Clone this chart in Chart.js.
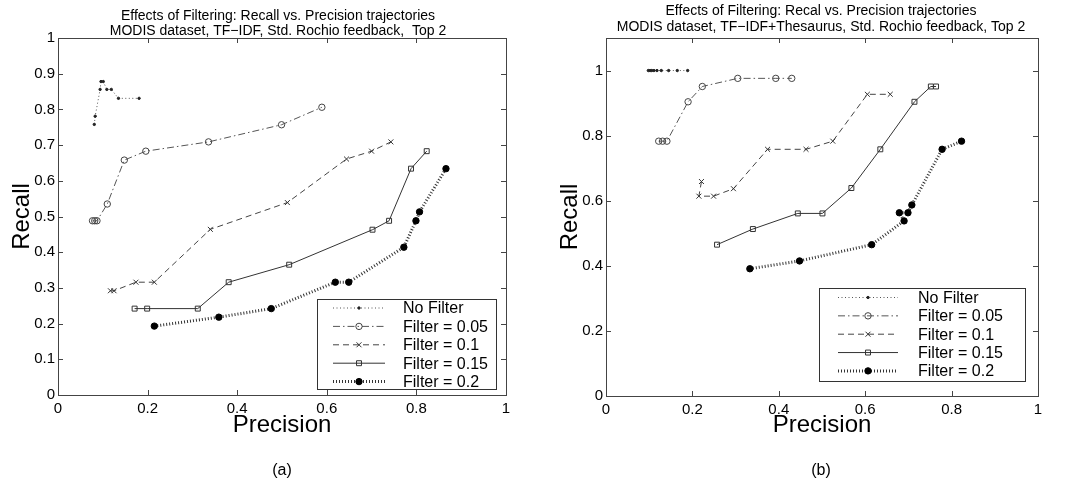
<!DOCTYPE html>
<html>
<head>
<meta charset="utf-8">
<script src="https://cdn.jsdelivr.net/npm/chart.js@4.4.0/dist/chart.umd.min.js"></script>
<style>
  body { margin: 0; background: #fff; }
  .panel { position: absolute; top: 0; width: 533px; height: 496px; }
</style>
</head>
<body>
<div class="panel" style="left:0"><canvas id="chartA" width="533" height="496"></canvas></div>
<div class="panel" style="left:533px"><canvas id="chartB" width="533" height="496"></canvas></div>
<script>
// Tick labels
const xTicks = [0, 0.2, 0.4, 0.6, 0.8, 1];
const yTicksA = [0, 0.1, 0.2, 0.3, 0.4, 0.5, 0.6, 0.7, 0.8, 0.9, 1];
const yTicksB = [0, 0.2, 0.4, 0.6, 0.8, 1];
const seriesNames = ['No Filter', 'Filter = 0.05', 'Filter = 0.1', 'Filter = 0.15', 'Filter = 0.2'];

// (a) TF-IDF : precision / recall per filter
const precNoFilterA = [0.081, 0.083, 0.094, 0.096, 0.101, 0.109, 0.119, 0.135, 0.181];
const recNoFilterA  = [0.758, 0.781, 0.856, 0.878, 0.878, 0.856, 0.856, 0.831, 0.831];
const precF05A = [0.077, 0.082, 0.087, 0.110, 0.148, 0.196, 0.336, 0.499, 0.589];
const recF05A  = [0.488, 0.488, 0.488, 0.535, 0.658, 0.683, 0.709, 0.757, 0.806];
const precF10A = [0.117, 0.125, 0.174, 0.215, 0.340, 0.512, 0.644, 0.700, 0.743];
const recF10A  = [0.292, 0.292, 0.316, 0.316, 0.464, 0.539, 0.661, 0.683, 0.709];
const precF15A = [0.171, 0.199, 0.312, 0.381, 0.516, 0.702, 0.739, 0.788, 0.823];
const recF15A  = [0.242, 0.242, 0.242, 0.316, 0.365, 0.463, 0.488, 0.634, 0.683];
const precF20A = [0.215, 0.359, 0.476, 0.619, 0.649, 0.772, 0.799, 0.807, 0.866];
const recF20A  = [0.193, 0.218, 0.242, 0.316, 0.316, 0.414, 0.488, 0.513, 0.634];

// (b) TF-IDF+Thesaurus
const precNoFilterB = [0.098, 0.102, 0.106, 0.111, 0.118, 0.128, 0.145, 0.165, 0.189];
const recNoFilterB  = [1, 1, 1, 1, 1, 1, 1, 1, 1];
const precF05B = [0.122, 0.131, 0.141, 0.190, 0.223, 0.305, 0.393, 0.430];
const recF05B  = [0.783, 0.783, 0.783, 0.904, 0.951, 0.976, 0.976, 0.976];
const precF10B = [0.221, 0.215, 0.249, 0.295, 0.374, 0.463, 0.525, 0.605, 0.658];
const recF10B  = [0.659, 0.614, 0.614, 0.637, 0.758, 0.758, 0.783, 0.927, 0.927];
const precF15B = [0.257, 0.340, 0.444, 0.501, 0.568, 0.635, 0.714, 0.752, 0.764];
const recF15B  = [0.465, 0.513, 0.561, 0.561, 0.639, 0.758, 0.904, 0.951, 0.951];
const precF20B = [0.333, 0.448, 0.615, 0.690, 0.679, 0.699, 0.708, 0.778, 0.823];
const recF20B  = [0.391, 0.415, 0.465, 0.538, 0.563, 0.563, 0.587, 0.758, 0.783];

const FONT = '"Liberation Sans", Arial, Helvetica, sans-serif';

// line / marker look of each series (MATLAB style)
const seriesStyle = [
    { dash: [1, 2.5], width: 1, color: '#555', point: 'circle', r: 1.2, fill: '#222', stroke: '#222' },
    { dash: [7, 3, 1.5, 3], width: 1, color: '#555', point: 'circle', r: 3.2, fill: 'rgba(0,0,0,0)', stroke: '#444' },
    { dash: [6, 4], width: 1, color: '#444', point: 'crossRot', r: 3.5, fill: 'rgba(0,0,0,0)', stroke: '#333' },
    { dash: [], width: 1, color: '#333', point: 'rect', r: 3.5, fill: 'rgba(0,0,0,0)', stroke: '#333' },
    { dash: [1, 2], width: 3, color: '#333', point: 'circle', r: 3.2, fill: '#000', stroke: '#000' }
];

function buildDatasets(precs, recs) {
    return precs.map((p, i) => {
        const s = seriesStyle[i];
        return {
            label: seriesNames[i],
            data: p.map((x, j) => ({ x: x, y: recs[i][j] })),
            showLine: true,
            tension: 0,
            borderColor: s.color,
            borderWidth: s.width,
            borderDash: s.dash,
            pointStyle: s.point,
            pointRadius: s.r,
            pointBackgroundColor: s.fill,
            pointBorderColor: s.stroke,
            pointBorderWidth: 1
        };
    });
}

function drawMarker(ctx, s, x, y) {
    ctx.save();
    ctx.setLineDash([]);
    ctx.lineWidth = 1;
    ctx.strokeStyle = s.stroke;
    ctx.fillStyle = s.fill;
    ctx.beginPath();
    if (s.point === 'circle') {
        ctx.arc(x, y, s.r, 0, Math.PI * 2);
        ctx.fill();
    } else if (s.point === 'rect') {
        const h = s.r * Math.SQRT1_2;
        ctx.rect(x - h, y - h, 2 * h, 2 * h);
    } else {
        const h = s.r * Math.SQRT1_2;
        ctx.moveTo(x - h, y - h); ctx.lineTo(x + h, y + h);
        ctx.moveTo(x + h, y - h); ctx.lineTo(x - h, y + h);
    }
    ctx.stroke();
    ctx.restore();
}

// axes box with inward tick marks, titles, legend and caption
const matlabFigure = {
    id: 'matlabFigure',
    afterDatasetsDraw(chart, args, opts) {
        const ctx = chart.ctx;
        const a = chart.chartArea;
        const sx = chart.scales.x, sy = chart.scales.y;
        ctx.save();
        ctx.strokeStyle = '#444';
        ctx.lineWidth = 1;
        ctx.setLineDash([]);
        ctx.strokeRect(Math.round(a.left) + 0.5, Math.round(a.top) + 0.5,
            Math.round(a.right - a.left), Math.round(a.bottom - a.top));
        ctx.beginPath();
        sx.ticks.forEach(t => {
            const px = Math.round(sx.getPixelForValue(t.value)) + 0.5;
            ctx.moveTo(px, a.bottom); ctx.lineTo(px, a.bottom - 5);
            ctx.moveTo(px, a.top); ctx.lineTo(px, a.top + 5);
        });
        sy.ticks.forEach(t => {
            const py = Math.round(sy.getPixelForValue(t.value)) + 0.5;
            ctx.moveTo(a.left, py); ctx.lineTo(a.left + 5, py);
            ctx.moveTo(a.right, py); ctx.lineTo(a.right - 5, py);
        });
        ctx.stroke();

        // legend
        const b = opts.legend;
        ctx.fillStyle = '#fff';
        ctx.fillRect(b.x, b.y, b.w, b.h);
        ctx.strokeStyle = '#333';
        ctx.strokeRect(b.x + 0.5, b.y + 0.5, b.w, b.h);
        ctx.font = '16px ' + FONT;
        ctx.textAlign = 'left';
        ctx.textBaseline = 'middle';
        seriesNames.forEach((name, i) => {
            const s = seriesStyle[i];
            const y = b.y + b.first + i * b.step;
            ctx.save();
            ctx.strokeStyle = s.color;
            ctx.lineWidth = s.width;
            ctx.setLineDash(s.dash);
            ctx.beginPath();
            ctx.moveTo(b.lineX0, y); ctx.lineTo(b.lineX1, y);
            ctx.stroke();
            ctx.restore();
            drawMarker(ctx, s, (b.lineX0 + b.lineX1) / 2, y);
            ctx.fillStyle = '#000';
            ctx.fillText(name, b.textX, y + 1);
        });

        // title lines and caption
        ctx.fillStyle = '#000';
        ctx.textAlign = 'center';
        ctx.font = '14px ' + FONT;
        opts.title.forEach((t, i) => ctx.fillText(t, opts.titleX, opts.titleY[i]));
        ctx.font = '16px ' + FONT;
        ctx.fillText(opts.caption, opts.captionX, opts.captionY);
        ctx.restore();
    }
};

function makeFigure(id, cfg) {
    const ctx = document.getElementById(id).getContext('2d');
    return new Chart(ctx, {
        type: 'scatter',
        data: { datasets: buildDatasets(cfg.precs, cfg.recs) },
        plugins: [matlabFigure],
        options: {
            responsive: false,
            animation: false,
            devicePixelRatio: 1,
            layout: { padding: cfg.padding },
            scales: {
                x: {
                    type: 'linear', min: 0, max: 1,
                    afterBuildTicks: s => { s.ticks = xTicks.map(v => ({ value: v })); },
                    afterFit: s => { s.height = cfg.xHeight; },
                    grid: { display: false, drawTicks: false },
                    border: { display: false },
                    ticks: { color: '#000', padding: 5, maxRotation: 0, font: { family: FONT, size: 15 },
                             callback: v => String(v) },
                    title: { display: true, text: 'Precision', color: '#000', padding: 0,
                             font: { family: FONT, size: 24 } }
                },
                y: {
                    type: 'linear', min: 0, max: cfg.yMax,
                    afterBuildTicks: s => { s.ticks = cfg.yTicks.map(v => ({ value: v })); },
                    afterFit: s => { s.width = cfg.yWidth; },
                    grid: { display: false, drawTicks: false },
                    border: { display: false },
                    ticks: { color: '#000', padding: 3, font: { family: FONT, size: 15 },
                             callback: v => String(v) },
                    title: { display: true, text: 'Recall', color: '#000', padding: 0,
                             font: { family: FONT, size: 24 } }
                }
            },
            plugins: {
                legend: { display: false },
                tooltip: { enabled: false },
                matlabFigure: cfg.figure
            }
        }
    });
}

makeFigure('chartA', {
    precs: [precNoFilterA, precF05A, precF10A, precF15A, precF20A],
    recs: [recNoFilterA, recF05A, recF10A, recF15A, recF20A],
    yTicks: yTicksA, yMax: 1,
    padding: { left: 8, right: 27, top: 38, bottom: 56.6 },
    yWidth: 50, xHeight: 44.4,
    figure: {
        title: ['Effects of Filtering: Recall vs. Precision trajectories',
                'MODIS dataset, TF\u2212IDF, Std. Rochio feedback,  Top 2'],
        titleX: 278, titleY: [16, 31],
        caption: '(a)', captionX: 282, captionY: 471,
        legend: { x: 317, y: 299, w: 179, h: 90, first: 9, step: 18.4,
                  lineX0: 333, lineX1: 385, textX: 403 }
    }
});

makeFigure('chartB', {
    precs: [precNoFilterB, precF05B, precF10B, precF15B, precF20B],
    recs: [recNoFilterB, recF05B, recF10B, recF15B, recF20B],
    yTicks: yTicksB, yMax: 1.1,
    padding: { left: 22.6, right: 28, top: 38, bottom: 56.6 },
    yWidth: 50.4, xHeight: 43.4,
    figure: {
        title: ['Effects of Filtering: Recal vs. Precision trajectories',
                'MODIS dataset, TF\u2212IDF+Thesaurus, Std. Rochio feedback, Top 2'],
        titleX: 288, titleY: [11, 27],
        caption: '(b)', captionX: 288, captionY: 471,
        legend: { x: 286, y: 288, w: 206, h: 93, first: 9.5, step: 18.35,
                  lineX0: 305, lineX1: 365, textX: 385 }
    }
});
</script>
</body>
</html>
